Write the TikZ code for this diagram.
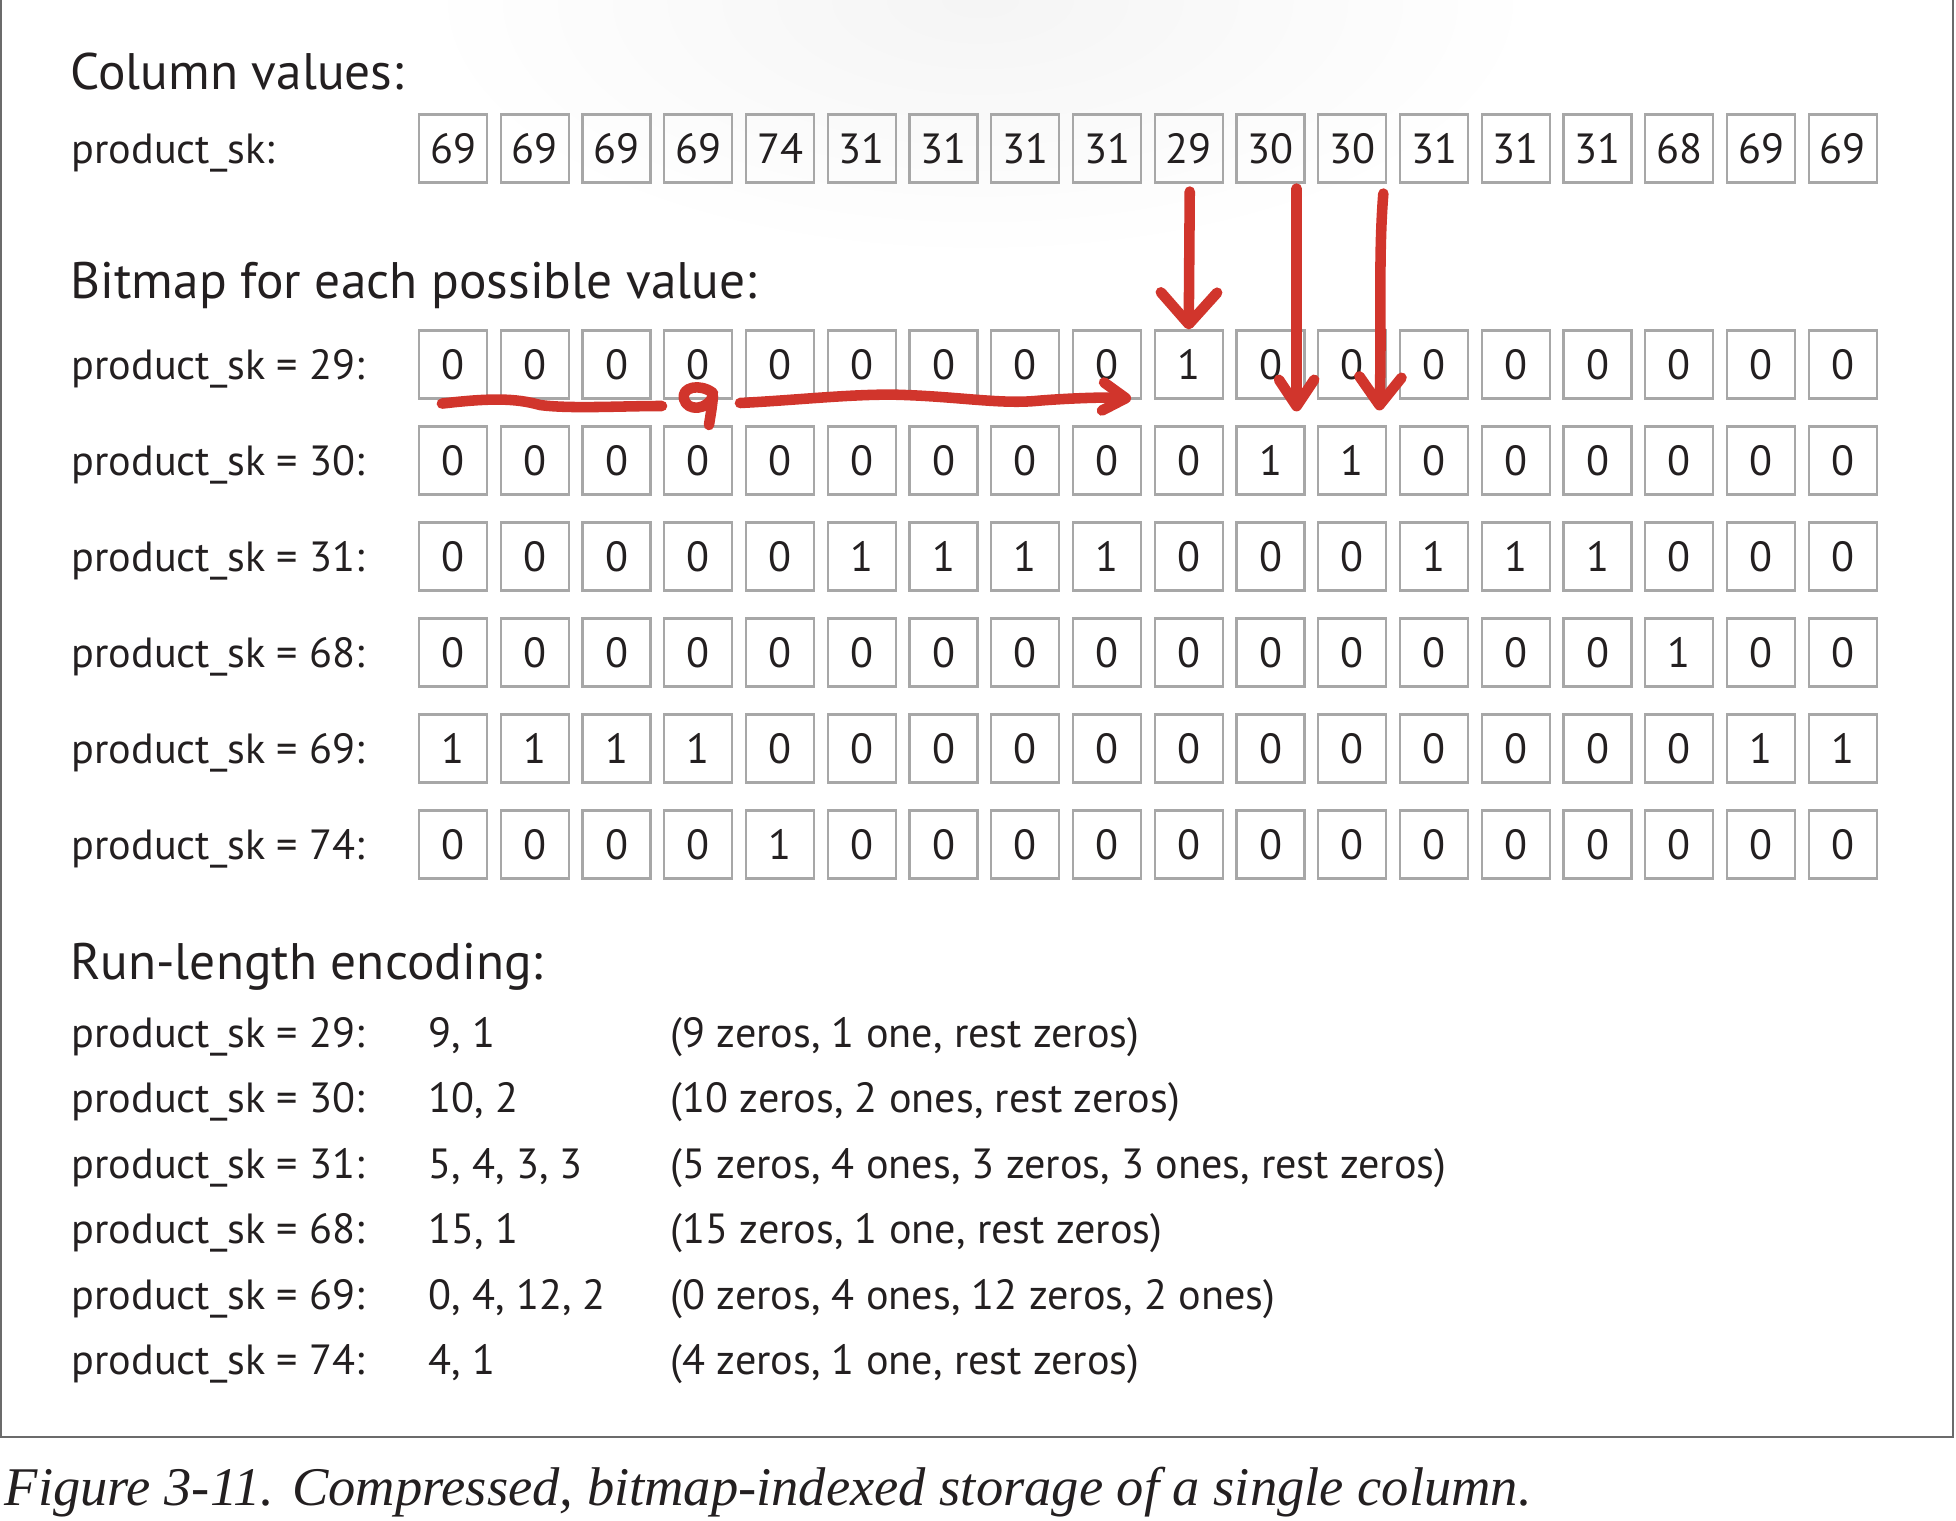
\documentclass[tikz,border=0pt]{standalone}
\usepackage{fontspec}
\setmainfont{PT Sans}
\newfontfamily\captionfont{Liberation Serif}
\usetikzlibrary{arrows.meta,calc}

\definecolor{ink}{HTML}{231F20}
\definecolor{cellgray}{HTML}{A7A7A7}
\definecolor{framegray}{HTML}{6B6B6B}
\definecolor{penred}{HTML}{D1352C}

\tikzset{
  cell/.style={draw=cellgray, line width=0.6pt, minimum size=0.68cm, inner sep=0pt,
    text=ink, font=\fontsize{12}{14}\selectfont},
  txt/.style={anchor=base west, inner sep=0pt, text=ink, font=\fontsize{12}{14}\selectfont},
  heading/.style={txt, font=\fontsize{14.6}{18}\selectfont},
  pen/.style={draw=penred, line width=3pt, line cap=round, line join=round},
}

\begin{document}
\begin{tikzpicture}[x=0.01cm, y=-0.01cm]
\useasboundingbox (0,0) rectangle (1956,1521);
\shade[inner color=black!4, outer color=white] (980,0) ellipse [x radius=560, y radius=260];
\draw[framegray, line width=0.6pt] (1,0) |- (1953,1437) -- (1953,0);

\coordinate (lx) at (71,0);

% column values
\node[heading] (hcol) at (70,90) {Column values:};
\foreach \v [count=\i from 0] in {69,69,69,69,74,31,31,31,31,29,30,30,31,31,31,68,69,69}
  \node[cell] (v\i) at ({453+81.75*\i},148.5) {\v};
\node[txt] (lcol) at (v0.base -| lx) {product\_sk:};

% one bitmap per value
\node[heading] (hbit) at (70,298) {Bitmap for each possible value:};
\foreach \r/\bits [count=\k from 0] in {
  29/{0,0,0,0,0,0,0,0,0,1,0,0,0,0,0,0,0,0},
  30/{0,0,0,0,0,0,0,0,0,0,1,1,0,0,0,0,0,0},
  31/{0,0,0,0,0,1,1,1,1,0,0,0,1,1,1,0,0,0},
  68/{0,0,0,0,0,0,0,0,0,0,0,0,0,0,0,1,0,0},
  69/{1,1,1,1,0,0,0,0,0,0,0,0,0,0,0,0,1,1},
  74/{0,0,0,0,1,0,0,0,0,0,0,0,0,0,0,0,0,0}} {
  \foreach \b [count=\i from 0] in \bits
    \node[cell] (r\r-\i) at ({453+81.75*\i},{364.5+96*\k}) {\b};
  \node[txt] (l\r) at (r\r-0.base -| lx) {product\_sk = \r:};
}

% run-length encoding
\node[heading] (hrle) at (70,979) {Run-length encoding:};
\foreach \r/\runs/\desc [count=\k from 0] in {
  29/{9, 1}/{(9 zeros, 1 one, rest zeros)},
  30/{10, 2}/{(10 zeros, 2 ones, rest zeros)},
  31/{5, 4, 3, 3}/{(5 zeros, 4 ones, 3 zeros, 3 ones, rest zeros)},
  68/{15, 1}/{(15 zeros, 1 one, rest zeros)},
  69/{0, 4, 12, 2}/{(0 zeros, 4 ones, 12 zeros, 2 ones)},
  74/{4, 1}/{(4 zeros, 1 one, rest zeros)}} {
  \node[txt] (rl\r) at (71,{1047+65.5*\k}) {product\_sk = \r:};
  \node[txt] (rv\r) at (428,{1047+65.5*\k}) {\runs};
  \node[txt] (rd\r) at (670,{1047+65.5*\k}) {\desc};
}

% red pen marks
\draw[pen, -{Straight Barb[length=9pt, width=16pt, round]}] (v9.south) ++(1,8) -- (r29-9.north);
\draw[pen, -{Straight Barb[length=7.5pt, width=10pt, round]}]
  ($(v10.south east)+(-9,5)$) -- ($(r30-10.north east)+(-9,-14)$);
\draw[pen, -{Straight Barb[length=8pt, width=12pt, round]}]
  ($(v11.south east)+(-4,10)$) .. controls (1378,260) and (1382,330) .. ($(r30-11.north east)+(-8,-15)$);
\draw[pen] ($(r29-0.south west)+(24,4)$) .. controls (490,398) and (515,398) .. (540,405)
  .. controls (570,409) and (620,406) .. (662,406);
\draw[pen] (713,393) .. controls (700,383) and (681,387) .. (684,399)
  .. controls (687,412) and (708,410) .. (713,396) .. controls (712,408) and (710,418) .. (709,425);
\draw[pen, -{Straight Barb[length=6.5pt, width=8pt, round]}]
  (740,403) .. controls (800,400) and (860,393) .. (905,395)
  .. controls (960,397) and (1000,404) .. (1035,401)
  .. controls (1070,398) and (1110,397) .. ($(r29-8.south east)+(-11,-1)$);

\node[anchor=base west, inner sep=0pt, text=ink, font=\captionfont\itshape\fontsize{15.5}{19}\selectfont]
  (caption) at (4,1505) {Figure 3-11. Compressed, bitmap-indexed storage of a single column.};
\end{tikzpicture}
\end{document}
